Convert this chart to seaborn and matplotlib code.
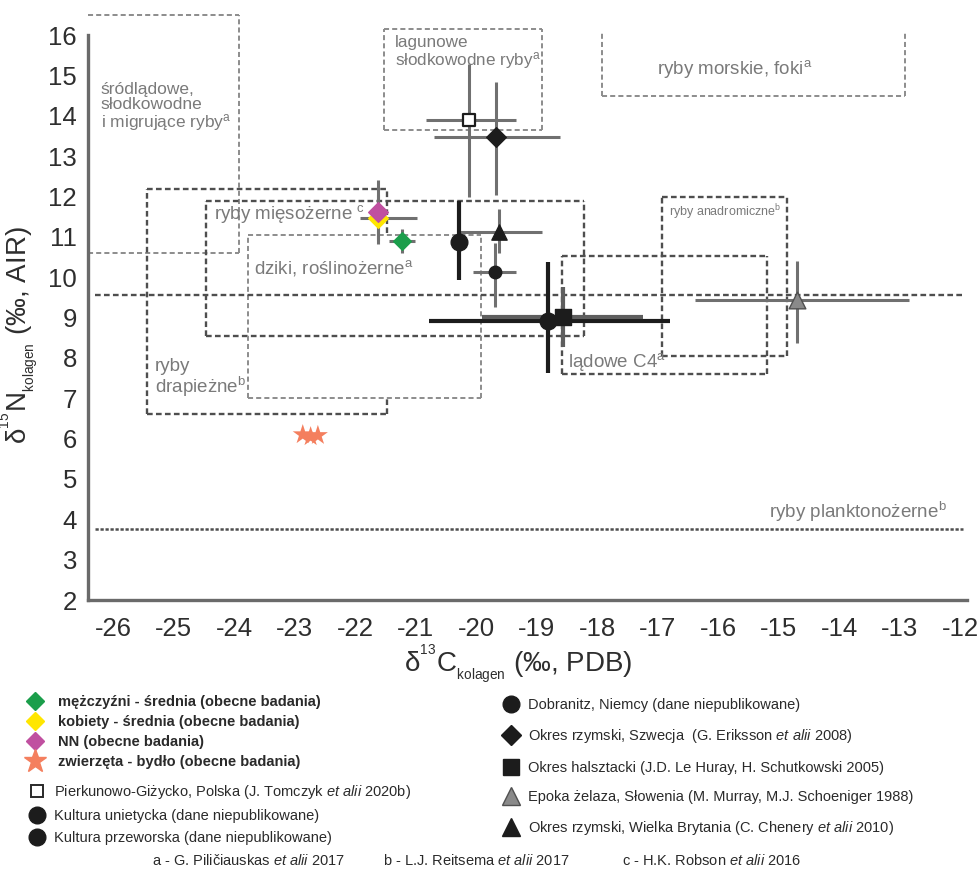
import matplotlib
matplotlib.use("Agg")
import matplotlib.pyplot as plt
import matplotlib.transforms as mtransforms
from matplotlib.lines import Line2D
import seaborn as sns

# Means (d13C, d15N of collagen) with their error ranges
groups = ["mezczyzni", "kobiety", "NN", "Pierkunowo", "Szwecja", "Brytania",
          "unietycka", "przeworska", "Dobranitz", "halsztacki", "Slowenia"]
d13c = [-21.31, -21.71, -21.71, -20.21, -19.76, -19.70, -20.37, -18.90, -19.77, -18.65, -14.78]
d15n = [10.90, 11.48, 11.62, 13.89, 13.48, 11.12, 10.88, 8.92, 10.12, 9.02, 9.43]
xerr_lo = [0.21, 0.30, 0.00, 0.70, 1.02, 0.65, 0.00, 1.96, 0.36, 1.33, 1.68]
xerr_hi = [0.21, 0.65, 0.00, 0.79, 1.07, 0.70, 0.00, 2.02, 0.34, 1.33, 1.85]
yerr_lo = [0.30, 0.55, 0.80, 1.90, 1.43, 0.52, 0.95, 1.30, 0.85, 0.74, 1.05]
yerr_hi = [0.30, 0.55, 0.80, 1.40, 1.35, 0.56, 1.01, 1.45, 0.72, 0.74, 0.98]

# cattle (obecne badania)
cattle_d13c = [-22.95, -22.82, -22.70]
cattle_d15n = [6.10, 6.05, 6.08]

# reference ranges from literature
box_labels = ["śródlądowe,\nsłodkowodne\ni migrujące ryby$^{\\rm a}$",
              "lagunowe\nsłodkowodne ryby$^{\\rm a}$",
              "ryby morskie, foki$^{\\rm a}$",
              "ryby mięsożerne $^{\\rm c}$",
              "ryby\ndrapieżne$^{\\rm b}$",
              "dziki, roślinożerne$^{\\rm a}$",
              "ryby anadromiczne$^{\\rm b}$",
              "lądowe C4$^{\\rm a}$"]
box_x0 = [-26.5, -21.6, -18.0, -24.55, -25.53, -23.85, -17.01, -18.67]
box_x1 = [-24.0, -19.0, -13.0, -18.30, -21.55, -20.00, -14.95, -15.28]
box_y0 = [10.60, 13.65, 14.50, 8.55, 6.62, 7.00, 8.05, 7.60]
box_y1 = [16.50, 16.15, 16.10, 11.90, 12.18, 11.05, 12.00, 10.53]

line_labels = ["", "ryby planktonożerne$^{\\rm b}$"]
line_y = [9.55, 3.75]

# styles (kept apart from the data)
marker_of = {"mezczyzni": "D", "kobiety": "D", "NN": "D", "Pierkunowo": "s", "Szwecja": "D",
             "Brytania": "^", "unietycka": "o", "przeworska": "o", "Dobranitz": "o",
             "halsztacki": "s", "Slowenia": "^"}
face_of = {"mezczyzni": "#1b9e4b", "kobiety": "#ffe600", "NN": "#c050a0", "Pierkunowo": "white",
           "Szwecja": "#1c1c1c", "Brytania": "#1c1c1c", "unietycka": "#1c1c1c",
           "przeworska": "#1c1c1c", "Dobranitz": "#1c1c1c", "halsztacki": "#1c1c1c",
           "Slowenia": "#8a8a8a"}
size_of = {"mezczyzni": 9, "kobiety": 10, "NN": 10, "Pierkunowo": 9, "Szwecja": 10,
           "Brytania": 11, "unietycka": 12, "przeworska": 12, "Dobranitz": 9,
           "halsztacki": 11, "Slowenia": 12}
bar_of = {"unietycka": "#1c1c1c", "przeworska": "#1c1c1c", "halsztacki": "#5e5e5e"}
barw_of = {"unietycka": 3.0, "przeworska": 3.0, "halsztacki": 3.0}
box_dark = [False, False, False, True, True, False, True, True]
box_sides = ["trb", "trbl", "rbl", "trbl", "tbl", "trbl", "trbl", "trbl"]
label_pos = [(-26.29, 14.22), (-21.42, 15.55), (-17.1, 15.16), (-24.42, 11.58),
             (-25.4, 7.49), (-23.76, 10.22), (-16.89, 11.62), (-18.56, 7.9)]
label_size = [12.5, 12.3, 13.5, 13.5, 13.5, 13.5, 9, 13.5]

sns.set_theme(style="white")
plt.rcParams["font.family"] = ["Liberation Sans", "DejaVu Sans"]
plt.rcParams["mathtext.fontset"] = "custom"
plt.rcParams["mathtext.rm"] = "Liberation Sans"
plt.rcParams["mathtext.it"] = "Liberation Sans:italic"
plt.rcParams["mathtext.bf"] = "Liberation Sans:bold"

LIGHT = "#8c8c8c"
DARK = "#4e4e4e"
AXC = "#6a6a6a"
TXT = "#7a7a7a"

fig = plt.figure(figsize=(9.78, 8.71), dpi=100)
ax = fig.add_axes([88 / 978, 271 / 871, 879 / 978, 589 / 871])
ax.set_xlim(-26.5, -11.97)
ax.set_ylim(2, 16.6)

# dashed reference boxes
for i in range(len(box_x0)):
    x0, x1, y0, y1 = box_x0[i], box_x1[i], box_y0[i], box_y1[i]
    if box_dark[i]:
        kw = dict(color=DARK, lw=1.7, dashes=(2.4, 1.4))
    else:
        kw = dict(color=LIGHT, lw=1.4, dashes=(2.6, 1.6))
    sides = box_sides[i]
    if "t" in sides:
        ax.plot([x0, x1], [y1, y1], zorder=1, **kw)
    if "b" in sides:
        ax.plot([x0, x1], [y0, y0], zorder=1, **kw)
    if "l" in sides:
        ax.plot([x0, x0], [y0, y1], zorder=1, **kw)
    if "r" in sides:
        ax.plot([x1, x1], [y0, y1], zorder=1, **kw)
    if i == 4:
        # right edge of "drapieżne" only partly visible
        ax.plot([x1, x1], [11.09, y1], zorder=1, **kw)
        ax.plot([x1, x1], [y0, 7.0], zorder=1, **kw)
    ax.text(label_pos[i][0], label_pos[i][1], box_labels[i], color=TXT,
            fontsize=label_size[i], ha="left", va="center", linespacing=1.0, zorder=2)

ax.plot([-26.38, -12.03], [line_y[0], line_y[0]], color=DARK, lw=1.7, dashes=(2.4, 1.4), zorder=1)
ax.plot([-26.38, -12.03], [line_y[1], line_y[1]], color=DARK, lw=1.8, dashes=(1.3, 0.7), zorder=1)
ax.text(-12.3, 4.18, line_labels[1], color=TXT, fontsize=13.5, ha="right", va="center")

# error bars
for i, g in enumerate(groups):
    ax.errorbar(d13c[i], d15n[i], xerr=[[xerr_lo[i]], [xerr_hi[i]]],
                yerr=[[yerr_lo[i]], [yerr_hi[i]]], fmt="none",
                ecolor=bar_of.get(g, "#707070"), elinewidth=barw_of.get(g, 2.2),
                capsize=0, zorder=3)

# markers
for i, g in enumerate(groups):
    edge = "#1c1c1c" if g in ("Pierkunowo",) else ("#505050" if g == "Slowenia" else face_of[g])
    sns.scatterplot(x=[d13c[i]], y=[d15n[i]], marker=marker_of[g], color=face_of[g],
                    edgecolor=edge, linewidth=1.6 if g == "Pierkunowo" else 1.0,
                    s=size_of[g] ** 2, ax=ax, zorder=5, legend=False)
sns.scatterplot(x=cattle_d13c, y=cattle_d15n, marker="*", color="#f47f5e",
                edgecolor="none", s=230, ax=ax, zorder=5, legend=False)

# axes styling
for side in ["top", "right"]:
    ax.spines[side].set_visible(False)
for side in ["left", "bottom"]:
    ax.spines[side].set_color(AXC)
    ax.spines[side].set_linewidth(2.4)
ax.spines["left"].set_bounds(2, 16)
ax.set_xticks(range(-26, -11))
ax.set_xticklabels([str(v) for v in range(-26, -11)])
ax.set_yticks(range(2, 17))
ax.tick_params(axis="both", direction="in", length=7, width=1.6, color=AXC,
               labelsize=18.5, labelcolor="#2e2e2e")
ax.tick_params(axis="x", pad=12)
ax.tick_params(axis="y", pad=8)
# x tick labels sit a little left of their ticks in the original
shift = mtransforms.ScaledTranslation(-5 / 100, 0, fig.dpi_scale_trans)
for lab in ax.get_xticklabels():
    lab.set_transform(lab.get_transform() + shift)
ax.grid(False)
ax.set_xlabel("δ$^{^{13}}$C$_{_{\\rm kolagen}}$ (‰, PDB)", fontsize=20, color="#2e2e2e")
ax.set_ylabel("δ$^{^{15}}$N$_{_{\\rm kolagen}}$ (‰, AIR)", fontsize=20, color="#2e2e2e")
ax.xaxis.set_label_coords(0.49, -0.072)
ax.yaxis.set_label_coords(-0.053, 0.45)

# legends
h_bold = [Line2D([], [], ls="none", marker="D", ms=9, mfc="#1b9e4b", mec="#1b9e4b"),
          Line2D([], [], ls="none", marker="D", ms=9, mfc="#ffe600", mec="#ffe600"),
          Line2D([], [], ls="none", marker="D", ms=9, mfc="#c050a0", mec="#c050a0"),
          Line2D([], [], ls="none", marker="*", ms=17, mfc="#f47f5e", mec="#f47f5e")]
t_bold = ["mężczyźni - średnia (obecne badania)", "kobiety - średnia (obecne badania)",
          "NN (obecne badania)", "zwierzęta - bydło (obecne badania)"]
leg1 = fig.legend(h_bold, t_bold, loc="upper left", bbox_to_anchor=(26 / 978, 1 - 695 / 871),
                  frameon=False, labelspacing=0.42, handlelength=1.3,
                  handletextpad=0.9, borderpad=0, borderaxespad=0,
                  prop={"weight": "bold", "size": 10.5})
for t in leg1.get_texts():
    t.set_color("#2a2a2a")

h_left = [Line2D([], [], ls="none", marker="s", ms=9, mfc="white", mec="#2a2a2a", mew=1.4),
          Line2D([], [], ls="none", marker="o", ms=12, mfc="#1c1c1c", mec="#1c1c1c"),
          Line2D([], [], ls="none", marker="o", ms=12, mfc="#1c1c1c", mec="#1c1c1c")]
t_left = ["Pierkunowo-Giżycko, Polska (J. Tomczyk $\\it{et\\ alii}$ 2020b)",
          "Kultura unietycka (dane niepublikowane)",
          "Kultura przeworska (dane niepublikowane)"]
leg2 = fig.legend(h_left, t_left, loc="upper left", bbox_to_anchor=(28 / 978, 1 - 783 / 871),
                  frameon=False, fontsize=10.5, labelspacing=0.55, handlelength=1.2,
                  handletextpad=0.6, borderpad=0, borderaxespad=0)

h_right = [Line2D([], [], ls="none", marker="o", ms=12, mfc="#1c1c1c", mec="#1c1c1c"),
           Line2D([], [], ls="none", marker="D", ms=10, mfc="#1c1c1c", mec="#1c1c1c"),
           Line2D([], [], ls="none", marker="s", ms=12, mfc="#1c1c1c", mec="#1c1c1c"),
           Line2D([], [], ls="none", marker="^", ms=13, mfc="#8a8a8a", mec="#505050"),
           Line2D([], [], ls="none", marker="^", ms=13, mfc="#1c1c1c", mec="#1c1c1c")]
t_right = ["Dobranitz, Niemcy (dane niepublikowane)",
           "Okres rzymski, Szwecja  (G. Eriksson $\\it{et\\ alii}$ 2008)",
           "Okres halsztacki (J.D. Le Huray, H. Schutkowski 2005)",
           "Epoka żelaza, Słowenia (M. Murray, M.J. Schoeniger 1988)",
           "Okres rzymski, Wielka Brytania (C. Chenery $\\it{et\\ alii}$ 2010)"]
leg3 = fig.legend(h_right, t_right, loc="upper left", bbox_to_anchor=(502 / 978, 1 - 698 / 871),
                  frameon=False, fontsize=10.5, labelspacing=1.05, handlelength=1.2,
                  handletextpad=0.6, borderpad=0, borderaxespad=0)
for leg in (leg2, leg3):
    for t in leg.get_texts():
        t.set_color("#2a2a2a")

footer = ["a - G. Piličiauskas $\\it{et\\ alii}$ 2017",
          "b - L.J. Reitsema $\\it{et\\ alii}$ 2017",
          "c - H.K. Robson $\\it{et\\ alii}$ 2016"]
for fx, s in zip([152, 383, 622], footer):
    fig.text(fx / 978, 1 - 860 / 871, s, fontsize=10.5, color="#2a2a2a", ha="left", va="center")

fig.savefig("out.png", dpi=100)
